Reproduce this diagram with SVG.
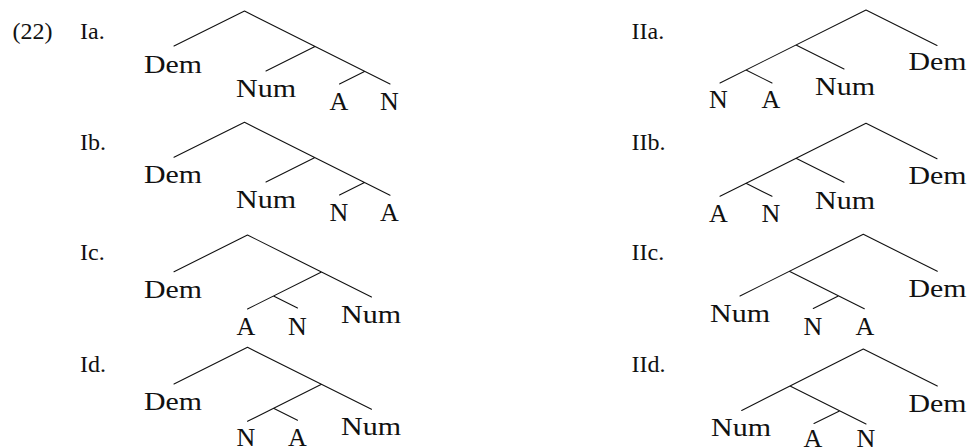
<svg xmlns="http://www.w3.org/2000/svg" width="970" height="447" viewBox="0 0 970 447">
<style>
text{font-family:"Liberation Serif","Times New Roman",serif;fill:#111}
.row{font-size:24px}
.lab{font-size:26px;text-anchor:middle}
.edge{fill:none;stroke:#111;stroke-width:1.1;stroke-linecap:round;stroke-linejoin:round}
</style>
<rect width="970" height="447" fill="#fff"/>
<g id="row-labels">
<text class="row" x="12.5" y="39">(22)</text>
<text class="row" x="80" y="39">Ia.</text>
<text class="row" x="80" y="150">Ib.</text>
<text class="row" x="80" y="259.5">Ic.</text>
<text class="row" x="80" y="372">Id.</text>
<text class="row" x="631.5" y="39">IIa.</text>
<text class="row" x="631.5" y="150">IIb.</text>
<text class="row" x="631.5" y="259.5">IIc.</text>
<text class="row" x="631.5" y="372">IId.</text>
</g>
<g id="connectors" class="edge">
<path d="M174,46 L244.5,11 L390,84 M315,46.5 L266,71 M364.5,71.5 L339.5,84"/>
<path d="M174,157.3 L244.5,122.3 L390,195.3 M315,157.5 L266,182 M364.5,182.5 L339.5,195"/>
<path d="M174,271.75 L247.5,235 L371.5,297 M321.5,272 L247.5,309 M273.5,296 L297.5,308"/>
<path d="M174,384 L247.5,347.3 L371.5,409.3 M321.5,384.3 L247.5,421.3 M273.5,408.3 L297.5,420.3"/>
<path d="M937,45.5 L866,10 L720,83 M796,45 L844,69 M746,70 L772,83"/>
<path d="M937,158.8 L866,123.3 L720,196.3 M796,158.3 L844,182.3 M746,183.3 L772,196.3"/>
<path d="M937.3,271.3 L863.3,234.3 L740,296 M789.3,271.3 L864.3,308.8 M838.3,296 L813.3,308.5"/>
<path d="M937.3,386 L863.3,349 L741.7,410.5 M790,386 L866,424 M839.5,411 L814,423.5"/>
</g>
<g id="Ia">
<g id="Ia-Dem"><text class="lab" x="173" y="72.7" textLength="58" lengthAdjust="spacingAndGlyphs">Dem</text></g>
<g id="Ia-Num"><text class="lab" x="266" y="97" textLength="60" lengthAdjust="spacingAndGlyphs">Num</text></g>
<g id="Ia-A"><text class="lab" x="339" y="110">A</text></g>
<g id="Ia-N"><text class="lab" x="389.5" y="110">N</text></g>
</g>
<g id="Ib">
<g id="Ib-Dem"><text class="lab" x="173" y="183.3" textLength="58" lengthAdjust="spacingAndGlyphs">Dem</text></g>
<g id="Ib-Num"><text class="lab" x="266" y="207.5" textLength="60" lengthAdjust="spacingAndGlyphs">Num</text></g>
<g id="Ib-N"><text class="lab" x="339" y="221">N</text></g>
<g id="Ib-A"><text class="lab" x="389.5" y="221">A</text></g>
</g>
<g id="Ic">
<g id="Ic-Dem"><text class="lab" x="173" y="297.5" textLength="58" lengthAdjust="spacingAndGlyphs">Dem</text></g>
<g id="Ic-A"><text class="lab" x="246" y="334.5">A</text></g>
<g id="Ic-N"><text class="lab" x="297.5" y="334.5">N</text></g>
<g id="Ic-Num"><text class="lab" x="371" y="322.5" textLength="60" lengthAdjust="spacingAndGlyphs">Num</text></g>
</g>
<g id="Id">
<g id="Id-Dem"><text class="lab" x="173" y="409.5" textLength="58" lengthAdjust="spacingAndGlyphs">Dem</text></g>
<g id="Id-N"><text class="lab" x="246" y="446">N</text></g>
<g id="Id-A"><text class="lab" x="297.5" y="446">A</text></g>
<g id="Id-Num"><text class="lab" x="371" y="435" textLength="60" lengthAdjust="spacingAndGlyphs">Num</text></g>
</g>
<g id="IIa">
<g id="IIa-N"><text class="lab" x="718.5" y="108">N</text></g>
<g id="IIa-A"><text class="lab" x="771" y="108">A</text></g>
<g id="IIa-Num"><text class="lab" x="845" y="95" textLength="60" lengthAdjust="spacingAndGlyphs">Num</text></g>
<g id="IIa-Dem"><text class="lab" x="937.5" y="70.3" textLength="58" lengthAdjust="spacingAndGlyphs">Dem</text></g>
</g>
<g id="IIb">
<g id="IIb-A"><text class="lab" x="718.5" y="221.5">A</text></g>
<g id="IIb-N"><text class="lab" x="771" y="221.5">N</text></g>
<g id="IIb-Num"><text class="lab" x="845" y="208.5" textLength="60" lengthAdjust="spacingAndGlyphs">Num</text></g>
<g id="IIb-Dem"><text class="lab" x="937.5" y="184" textLength="58" lengthAdjust="spacingAndGlyphs">Dem</text></g>
</g>
<g id="IIc">
<g id="IIc-Num"><text class="lab" x="740" y="322" textLength="60" lengthAdjust="spacingAndGlyphs">Num</text></g>
<g id="IIc-N"><text class="lab" x="813" y="334.5">N</text></g>
<g id="IIc-A"><text class="lab" x="865" y="334.5">A</text></g>
<g id="IIc-Dem"><text class="lab" x="937.5" y="297" textLength="58" lengthAdjust="spacingAndGlyphs">Dem</text></g>
</g>
<g id="IId">
<g id="IId-Num"><text class="lab" x="741" y="435.5" textLength="60" lengthAdjust="spacingAndGlyphs">Num</text></g>
<g id="IId-A"><text class="lab" x="813" y="447">A</text></g>
<g id="IId-N"><text class="lab" x="866" y="447">N</text></g>
<g id="IId-Dem"><text class="lab" x="937.5" y="411.5" textLength="58" lengthAdjust="spacingAndGlyphs">Dem</text></g>
</g>
</svg>
